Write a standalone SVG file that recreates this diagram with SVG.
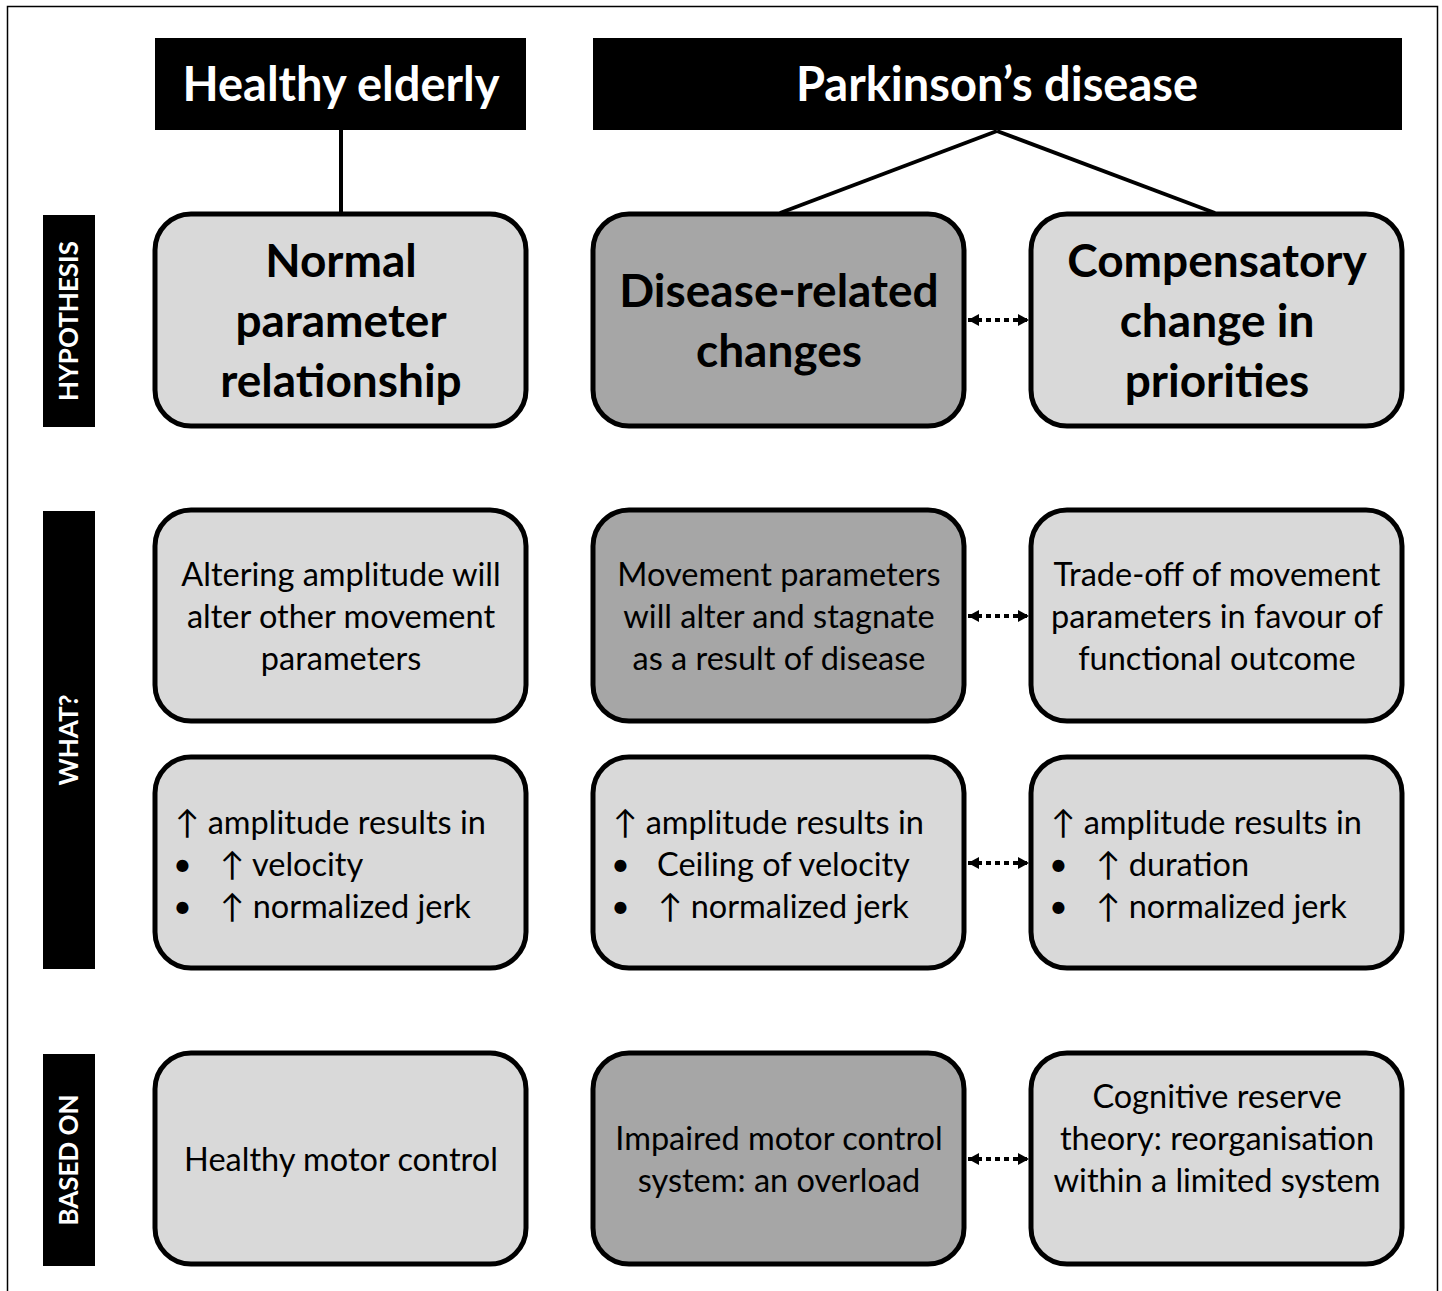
<svg xmlns="http://www.w3.org/2000/svg" width="1442" height="1291" viewBox="0 0 1442 1291">
  <defs>
    <style>
      .frame { fill: none; stroke: #000; stroke-width: 1.5; }
      .head { fill: #000; }
      .headtxt { fill: #fff; font-family: Lato, "Open Sans", sans-serif; font-weight: bold; font-size: 47px; text-anchor: middle; }
      .side { fill: #000; }
      .sidetxt { fill: #fff; font-family: Lato, "Open Sans", sans-serif; font-weight: bold; font-size: 26px; text-anchor: middle; }
      .box { stroke: #000; stroke-width: 5; }
      .light { fill: #d9d9d9; }
      .dark { fill: #a6a6a6; }
      .big { font-family: Lato, "Open Sans", sans-serif; font-weight: bold; font-size: 46px; text-anchor: middle; fill: #000; }
      .txt { font-family: Lato, "Open Sans", sans-serif; font-size: 32.5px; fill: #000; }
      .mid { text-anchor: middle; }
      .link { stroke: #000; stroke-width: 4; fill: none; }
      .dots { stroke: #000; stroke-width: 4; stroke-dasharray: 5 4; fill: none; }
    </style>
    <marker id="head" viewBox="0 0 11 12" refX="11" refY="6" markerWidth="11" markerHeight="12" orient="auto-start-reverse" markerUnits="userSpaceOnUse">
      <path d="M0,0 L11,6 L0,12 Z" fill="#000"/>
    </marker>
  </defs>

  <rect width="1442" height="1291" fill="#fff"/>
  <path class="frame" d="M7.5,1291 V6.5 H1437.5 V1291"/>

  <!-- column headers -->
  <g id="hdr-healthy">
    <rect class="head" x="155" y="38" width="371" height="92"/>
    <text class="headtxt" x="341" y="101">Healthy elderly</text>
  </g>
  <g id="hdr-pd">
    <rect class="head" x="593" y="38" width="809" height="92"/>
    <text class="headtxt" x="997" y="101">Parkinson’s disease</text>
  </g>

  <!-- row labels -->
  <g id="lbl-hypothesis">
    <rect class="side" x="43" y="215" width="52" height="212"/>
    <text class="sidetxt" transform="translate(78,321) rotate(-90)">HYPOTHESIS</text>
  </g>
  <g id="lbl-what">
    <rect class="side" x="43" y="511" width="52" height="458"/>
    <text class="sidetxt" transform="translate(78,740) rotate(-90)">WHAT?</text>
  </g>
  <g id="lbl-based">
    <rect class="side" x="43" y="1054" width="52" height="212"/>
    <text class="sidetxt" transform="translate(78,1160) rotate(-90)">BASED ON</text>
  </g>

  <!-- connectors -->
  <g id="connectors">
    <line class="link" x1="341" y1="130" x2="341" y2="213"/>
    <line class="link" x1="997" y1="131" x2="780" y2="213"/>
    <line class="link" x1="997" y1="131" x2="1215" y2="213"/>
    <line class="dots" x1="968" y1="320" x2="1029" y2="320" marker-start="url(#head)" marker-end="url(#head)"/>
    <line class="dots" x1="968" y1="616" x2="1029" y2="616" marker-start="url(#head)" marker-end="url(#head)"/>
    <line class="dots" x1="968" y1="863" x2="1029" y2="863" marker-start="url(#head)" marker-end="url(#head)"/>
    <line class="dots" x1="968" y1="1159" x2="1029" y2="1159" marker-start="url(#head)" marker-end="url(#head)"/>
  </g>

  <!-- hypothesis row -->
  <g id="hyp-normal">
    <rect class="box light" x="155" y="214" width="371" height="212" rx="36"/>
    <text class="big" x="341" y="277">Normal</text>
    <text class="big" x="341" y="337">parameter</text>
    <text class="big" x="341" y="397">relationship</text>
  </g>
  <g id="hyp-disease">
    <rect class="box dark" x="593" y="214" width="371" height="212" rx="36"/>
    <text class="big" x="779" y="307">Disease-related</text>
    <text class="big" x="779" y="367">changes</text>
  </g>
  <g id="hyp-compensatory">
    <rect class="box light" x="1031" y="214" width="371" height="212" rx="36"/>
    <text class="big" x="1217" y="277">Compensatory</text>
    <text class="big" x="1217" y="337">change in</text>
    <text class="big" x="1217" y="397">priorities</text>
  </g>

  <!-- what row: statements -->
  <g id="what-normal">
    <rect class="box light" x="155" y="510" width="371" height="211" rx="36"/>
    <text class="txt mid" x="341" y="586">Altering amplitude will</text>
    <text class="txt mid" x="341" y="628">alter other movement</text>
    <text class="txt mid" x="341" y="670">parameters</text>
  </g>
  <g id="what-disease">
    <rect class="box dark" x="593" y="510" width="371" height="211" rx="36"/>
    <text class="txt mid" x="779" y="586">Movement parameters</text>
    <text class="txt mid" x="779" y="628">will alter and stagnate</text>
    <text class="txt mid" x="779" y="670">as a result of disease</text>
  </g>
  <g id="what-compensatory">
    <rect class="box light" x="1031" y="510" width="371" height="211" rx="36"/>
    <text class="txt mid" x="1217" y="586">Trade-off of movement</text>
    <text class="txt mid" x="1217" y="628">parameters in favour of</text>
    <text class="txt mid" x="1217" y="670">functional outcome</text>
  </g>

  <!-- what row: predictions -->
  <g id="pred-normal">
    <rect class="box light" x="155" y="757" width="371" height="211" rx="36"/>
    <text class="txt" x="175" y="834">↑ amplitude results in</text>
    <text class="txt" x="173" y="876">•</text>
    <text class="txt" x="220" y="876">↑ velocity</text>
    <text class="txt" x="173" y="918">•</text>
    <text class="txt" x="220" y="918">↑ normalized jerk</text>
  </g>
  <g id="pred-disease">
    <rect class="box light" x="593" y="757" width="371" height="211" rx="36"/>
    <text class="txt" x="613" y="834">↑ amplitude results in</text>
    <text class="txt" x="611" y="876">•</text>
    <text class="txt" x="657" y="876">Ceiling of velocity</text>
    <text class="txt" x="611" y="918">•</text>
    <text class="txt" x="658" y="918">↑ normalized jerk</text>
  </g>
  <g id="pred-compensatory">
    <rect class="box light" x="1031" y="757" width="371" height="211" rx="36"/>
    <text class="txt" x="1051" y="834">↑ amplitude results in</text>
    <text class="txt" x="1049" y="876">•</text>
    <text class="txt" x="1096" y="876">↑ duration</text>
    <text class="txt" x="1049" y="918">•</text>
    <text class="txt" x="1096" y="918">↑ normalized jerk</text>
  </g>

  <!-- based-on row -->
  <g id="base-normal">
    <rect class="box light" x="155" y="1053" width="371" height="211" rx="36"/>
    <text class="txt mid" x="341" y="1171">Healthy motor control</text>
  </g>
  <g id="base-disease">
    <rect class="box dark" x="593" y="1053" width="371" height="211" rx="36"/>
    <text class="txt mid" x="779" y="1150">Impaired motor control</text>
    <text class="txt mid" x="779" y="1192">system: an overload</text>
  </g>
  <g id="base-compensatory">
    <rect class="box light" x="1031" y="1053" width="371" height="211" rx="36"/>
    <text class="txt mid" x="1217" y="1108">Cognitive reserve</text>
    <text class="txt mid" x="1217" y="1150">theory: reorganisation</text>
    <text class="txt mid" x="1217" y="1192">within a limited system</text>
  </g>
</svg>
